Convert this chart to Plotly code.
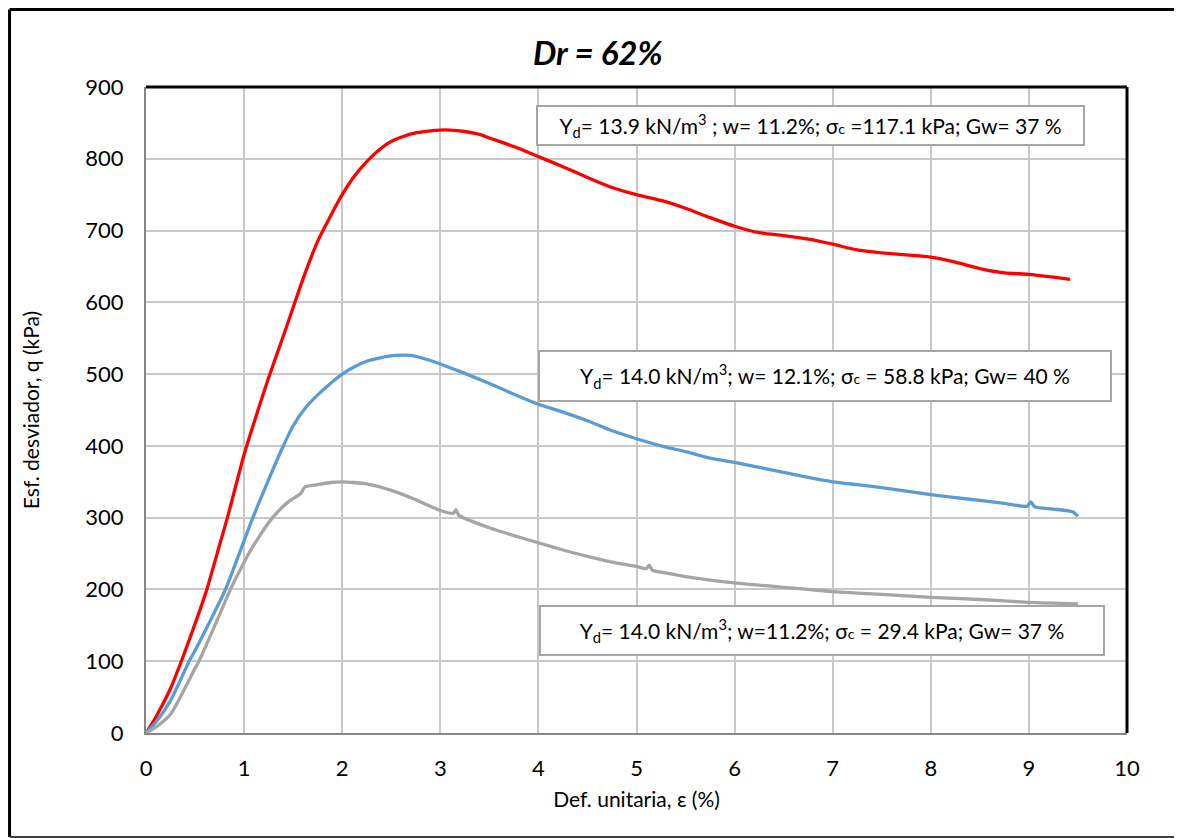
import plotly.graph_objects as go

# ---- data ----
strain_red = [0, 0.1, 0.25, 0.36, 0.5, 0.62, 0.75, 0.83, 1.0, 1.1, 1.25, 1.41, 1.5, 1.62, 1.75, 1.88, 2.0, 2.12, 2.25, 2.4, 2.5, 2.62, 2.75, 2.9, 3.0, 3.1, 3.25, 3.4, 3.5, 3.75, 4.0, 4.25, 4.5, 4.75, 5.0, 5.25, 5.5, 5.75, 6.0, 6.25, 6.5, 6.75, 7.0, 7.25, 7.5, 7.75, 8.0, 8.25, 8.5, 8.75, 9.0, 9.25, 9.42]
q_red = [0, 22, 62, 100, 152, 200, 262, 300, 388, 432, 495, 557, 593, 640, 685, 720, 750, 775, 796, 815, 824, 831, 836, 839, 840, 840, 838, 834, 829, 817, 803, 789, 774, 760, 750, 742, 731, 718, 706, 697, 693, 688, 681, 673, 669, 666, 663, 656, 647, 641, 639, 635, 632]

strain_blue = [0, 0.1, 0.25, 0.44, 0.5, 0.65, 0.81, 1.0, 1.08, 1.25, 1.39, 1.5, 1.62, 1.75, 1.88, 2.0, 2.12, 2.25, 2.4, 2.54, 2.7, 2.85, 3.0, 3.25, 3.5, 3.75, 4.0, 4.25, 4.5, 4.75, 5.0, 5.25, 5.5, 5.75, 6.0, 6.25, 6.5, 6.75, 7.0, 7.25, 7.5, 7.75, 8.0, 8.25, 8.5, 8.75, 8.98, 9.02, 9.06, 9.25, 9.45, 9.5]
q_blue = [0, 15, 45, 100, 115, 155, 200, 268, 297, 353, 397, 428, 452, 471, 487, 500, 510, 518, 523, 526, 526, 521, 514, 501, 487, 472, 458, 447, 435, 421, 410, 400, 392, 383, 377, 370, 363, 356, 350, 346, 342, 337, 332, 328, 324, 320, 316, 322, 315, 312, 308, 302]

strain_gray = [0, 0.1, 0.25, 0.5, 0.54, 0.75, 0.86, 1.0, 1.1, 1.29, 1.45, 1.58, 1.62, 1.75, 1.88, 2.0, 2.12, 2.25, 2.5, 2.75, 3.0, 3.13, 3.16, 3.19, 3.25, 3.5, 3.75, 4.0, 4.25, 4.5, 4.75, 5.0, 5.1, 5.13, 5.16, 5.25, 5.5, 5.75, 6.0, 6.25, 6.5, 6.75, 7.0, 7.5, 8.0, 8.5, 9.0, 9.5]
q_gray = [0, 8, 26, 90, 100, 165, 200, 238, 262, 300, 322, 334, 343, 346, 349, 350, 349, 347, 338, 325, 310, 306, 311, 303, 299, 286, 275, 265, 255, 246, 238, 232, 229, 234, 227, 224, 218, 213, 209, 206, 203, 200, 197, 193, 189, 186, 182, 180]

series_colors = ["#FF0000", "#5B9BD5", "#A5A5A5"]

x_ticks = [0, 1, 2, 3, 4, 5, 6, 7, 8, 9, 10]
y_ticks = [0, 100, 200, 300, 400, 500, 600, 700, 800, 900]

title_text = "<b><i>Dr = 62%</i></b>"
x_title = "Def. unitaria, ε (%)"
y_title = "Esf. desviador, q (kPa)"

SUBC = "<span style='font-size:14px'>c</span>"
label_texts = [
    "Υ<sub>d</sub>= 13.9 kN/m<sup>3</sup> ; w= 11.2%; σ" + SUBC + " =117.1 kPa; Gw= 37 %",
    "Υ<sub>d</sub>= 14.0 kN/m<sup>3</sup>; w= 12.1%; σ" + SUBC + " = 58.8 kPa; Gw= 40 %",
    "Υ<sub>d</sub>= 14.0 kN/m<sup>3</sup>; w=11.2%; σ" + SUBC + " = 29.4 kPa; Gw= 37 %",
]
label_x = [6.77, 6.92, 6.89]
label_y = [847, 497, 143]
label_w = [541, 566, 558]
label_h = [33, 44, 43]

FONT = "Lato"

fig = go.Figure()
for xs, ys, c in [(strain_red, q_red, series_colors[0]),
                  (strain_blue, q_blue, series_colors[1]),
                  (strain_gray, q_gray, series_colors[2])]:
    fig.add_trace(go.Scatter(x=xs, y=ys, mode="lines",
                             line=dict(color=c, width=3.3, shape="spline", smoothing=0.6),
                             showlegend=False, hoverinfo="skip"))

for t, x, y, w, h in zip(label_texts, label_x, label_y, label_w, label_h):
    fig.add_annotation(x=x, y=y, xref="x", yref="y", text=t, showarrow=False,
                       width=w, height=h, align="center", valign="middle",
                       bgcolor="white", bordercolor="#A6A6A6", borderwidth=2, borderpad=2,
                       font=dict(family=FONT, size=21, color="#000000"))

fig.add_annotation(x=0.4608, y=1.054, xref="paper", yref="paper", text=title_text,
                   showarrow=False, xanchor="center", yanchor="middle",
                   font=dict(family=FONT, size=33, color="#000000"))

# plot-area top/right black borders
fig.add_shape(type="line", xref="paper", yref="paper", x0=0, x1=1, y0=1, y1=1,
              line=dict(color="black", width=3))
fig.add_shape(type="line", xref="paper", yref="paper", x0=1, x1=1, y0=0, y1=1,
              line=dict(color="black", width=3))
# outer chart frame (left, top, bottom edges; right edge lies outside the picture)
fig.add_shape(type="line", xref="paper", yref="paper", x0=-0.1391, x1=-0.1391,
              y0=-0.161, y1=1.12, line=dict(color="black", width=3), layer="below")
fig.add_shape(type="line", xref="paper", yref="paper", x0=-0.1391, x1=1.2,
              y0=1.12, y1=1.12, line=dict(color="black", width=3), layer="below")
fig.add_shape(type="line", xref="paper", yref="paper", x0=-0.1391, x1=1.2,
              y0=-0.161, y1=-0.161, line=dict(color="#404040", width=2), layer="below")

fig.update_layout(
    width=1174, height=830,
    margin=dict(l=138, r=55, t=79, b=105),
    paper_bgcolor="white", plot_bgcolor="white",
    font=dict(family=FONT, size=21, color="#000000"),
    xaxis=dict(range=[0, 10], tickvals=x_ticks, showgrid=True, gridcolor="#C8C8C8",
               gridwidth=1.5, showline=True, linecolor="#868686", linewidth=2,
               zeroline=False, ticks="outside", ticklen=15, tickcolor="rgba(0,0,0,0)",
               tickfont=dict(family=FONT, size=22, color="#000000"),
               title=dict(text=x_title, standoff=12, font=dict(family=FONT, size=21))),
    yaxis=dict(range=[0, 900], tickvals=y_ticks, showgrid=True, gridcolor="#C8C8C8",
               gridwidth=1.5, showline=True, linecolor="#868686", linewidth=2,
               zeroline=False, ticks="outside", ticklen=16, tickcolor="rgba(0,0,0,0)",
               tickfont=dict(family=FONT, size=22, color="#000000"),
               title=dict(text=y_title, standoff=40, font=dict(family=FONT, size=21))),
)

fig.write_html("out.html")
